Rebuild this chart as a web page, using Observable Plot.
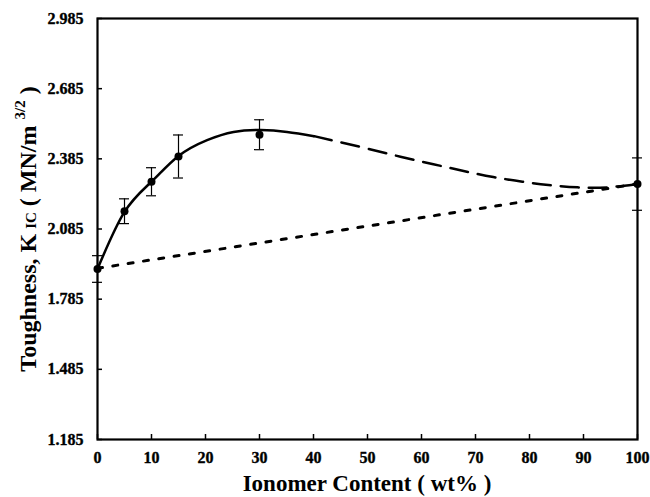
<!DOCTYPE html>
<html><head><meta charset="utf-8">
<script src="https://cdn.jsdelivr.net/npm/d3@7"></script>
<script src="https://cdn.jsdelivr.net/npm/@observablehq/plot@0.6"></script>
<style>body{margin:0;background:#fff}</style>
</head><body><div id="chart"></div>
<script>
// Measured data points (Ionomer content wt%, toughness K_IC) with error half-widths
const pointX = [0, 5, 10, 15, 30, 100];
const pointY = [1.914, 2.161, 2.287, 2.395, 2.488, 2.277];
const pointErr = [0.057, 0.053, 0.060, 0.092, 0.064, 0.112];

// Fitted curve: solid part
const solidX = [0, 5, 10, 15, 20.3, 25.2, 30.2, 35.1, 40.1];
const solidY = [1.914, 2.158, 2.287, 2.397, 2.465, 2.500, 2.508, 2.500, 2.482];
// Fitted curve: long-dashed extrapolation
const dashX = [40.1, 48.7, 56.1, 62.2, 67.8, 73.3, 78.7, 83.5, 88.9, 94.4, 100];
const dashY = [2.482, 2.436, 2.394, 2.362, 2.333, 2.307, 2.287, 2.273, 2.263, 2.263, 2.277];
// Rule-of-mixtures (dotted) line
const dotX = [0, 100];
const dotY = [1.917, 2.278];

// Axis ticks
const xTicks = [0, 10, 20, 30, 40, 50, 60, 70, 80, 90, 100];
const yTicks = [1.185, 1.485, 1.785, 2.085, 2.385, 2.685, 2.985];
const xDomain = [0, 100];
const yDomain = [1.185, 2.985];

const points = pointX.map((x, i) => ({x, y: pointY[i], lo: pointY[i] - pointErr[i], hi: pointY[i] + pointErr[i]}));
const solid = solidX.map((x, i) => ({x, y: solidY[i]}));
const dashed = dashX.map((x, i) => ({x, y: dashY[i]}));
const dotted = dotX.map((x, i) => ({x, y: dotY[i]}));

const W = 650, H = 497, mL = 97, mR = 13, mT = 18, mB = 58;
const serif = "Liberation Serif";
const tickFont = {fontFamily: serif, fontWeight: "bold", fontSize: "16px", fill: "black", stroke: "black", strokeWidth: 0.35};

const chart = Plot.plot({
  width: W, height: H,
  marginLeft: mL, marginRight: mR, marginTop: mT, marginBottom: mB,
  style: {fontFamily: serif, fontWeight: "bold", fontSize: "16px", background: "white", color: "black"},
  x: {domain: xDomain, axis: null},
  y: {domain: yDomain, axis: null},
  marks: [
    // tick labels
    Plot.text(xTicks, {x: d => d, y: yDomain[0], text: d => String(d), dy: 18, ...tickFont}),
    Plot.text(yTicks, {x: xDomain[0], y: d => d, text: d => d.toFixed(3), textAnchor: "end", dx: -14, ...tickFont}),
    // inward tick marks
    Plot.ruleX(xTicks, {x: d => d, y1: yDomain[0], y2: yDomain[0], insetTop: -5, strokeWidth: 1.5}),
    Plot.ruleY(yTicks, {y: d => d, x1: xDomain[0], x2: xDomain[0], insetRight: -5, strokeWidth: 1.5}),
    Plot.frame({strokeWidth: 2.2}),
    Plot.line(dotted, {x: "x", y: "y", strokeWidth: 3, strokeDasharray: "5,10.5"}),
    Plot.line(solid, {x: "x", y: "y", curve: "natural", strokeWidth: 2.5}),
    Plot.line(dashed, {x: "x", y: "y", curve: "natural", strokeWidth: 2.5, strokeDasharray: "18,10"}),
    Plot.ruleX(points, {x: "x", y1: "lo", y2: "hi", strokeWidth: 1.2}),
    Plot.ruleY(points, {y: "lo", x1: "x", x2: "x", insetLeft: -5, insetRight: -5, strokeWidth: 1.2}),
    Plot.ruleY(points, {y: "hi", x1: "x", x2: "x", insetLeft: -5, insetRight: -5, strokeWidth: 1.2}),
    Plot.dot(points, {x: "x", y: "y", r: 4, fill: "black"})
  ]
});

document.getElementById("chart").appendChild(chart);
const svg = d3.select(chart);

svg.append("text")
  .attr("x", (mL + W - mR) / 2).attr("y", 491)
  .attr("text-anchor", "middle")
  .style("font-family", serif).style("font-weight", "bold").style("font-size", "23px")
  .text("Ionomer Content ( wt% )");

const yl = svg.append("text")
  .attr("transform", "translate(36,229) rotate(-90)")
  .attr("text-anchor", "middle")
  .style("font-family", serif).style("font-weight", "bold").style("font-size", "24px");
yl.append("tspan").text("Toughness, K");
yl.append("tspan").attr("font-size", "15px").attr("dx", 5).text("IC");
yl.append("tspan").text(" ( MN/m ");
yl.append("tspan").attr("font-size", "15px").attr("dy", -11).text("3/2");
yl.append("tspan").attr("dy", 11).text(" )");
</script>
</body></html>
